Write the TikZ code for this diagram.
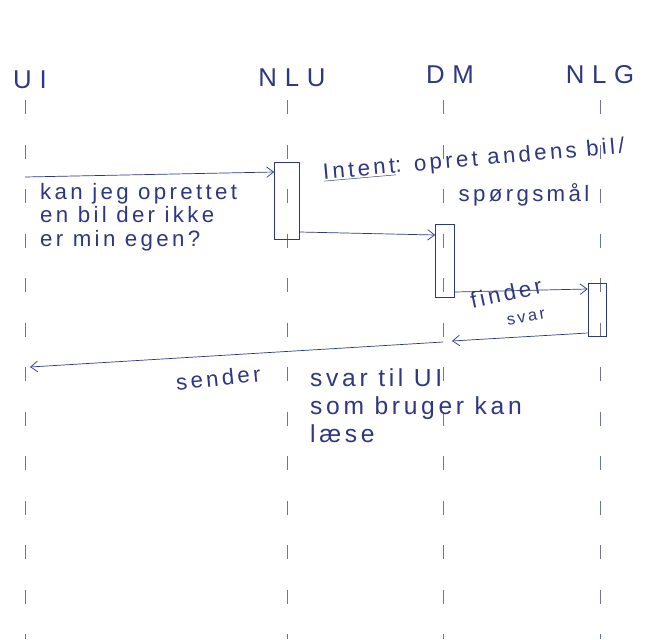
\documentclass[tikz,border=0pt]{standalone}
\usepackage{fontspec}
\setmainfont{Liberation Sans}
\usetikzlibrary{arrows.meta}
\definecolor{pen}{RGB}{45,55,130}
\newfontfamily\handfont[LetterSpace=15]{Liberation Sans}
\newfontfamily\headfont[LetterSpace=30]{Liberation Sans}
\tikzset{
  head/.style={text=pen,font=\headfont\fontsize{22}{24}\selectfont},
  lifeline/.style={draw=pen!70,line width=.5pt,dash pattern=on 12pt off 26pt},
  act/.style={draw=pen,line width=.6pt,minimum width=.6cm,inner sep=0pt},
  msg/.style={draw=pen,line width=.6pt,-{Straight Barb[length=6pt,width=9pt]}},
  txt/.style={text=pen,align=left,inner sep=0pt,font=\handfont\fontsize{19}{20}\selectfont}
}
\begin{document}
\begin{tikzpicture}[x=0.03cm,y=-0.03cm]
\useasboundingbox (0,0) rectangle (668,639);

% lifeline heads
\node[head] (ui)  at (30,80)  {UI};
\node[head] (nlu) at (292,78) {NLU};
\node[head] (dm)  at (450,75) {DM};
\node[head] (nlg) at (600,75) {NLG};

% lifelines
\draw[lifeline] (25,100)  -- (25,639);
\draw[lifeline] (287,100) -- (287,639);
\draw[lifeline] (443,100) -- (443,639);
\draw[lifeline] (600,100) -- (600,639);

% activations
\node[act,minimum width=.75cm,minimum height=2.31cm] (nlubox) at (287,201) {};
\node[act,minimum width=.57cm,minimum height=2.19cm] (dmbox)  at (445,261) {};
\node[act,minimum width=.54cm,minimum height=1.59cm] (nlgbox) at (597,310) {};

% messages
\draw[msg] (25,177) -- (nlubox.west |- 0,172);
\draw[msg] (nlubox.east |- 0,232) -- (dmbox.west |- 0,235);
\draw[msg] (dmbox.east |- 0,292) -- (nlgbox.west |- 0,289);
\draw[msg] (nlgbox.west |- 0,333) -- (452,341);
\draw[msg] (443,342) -- (30,367);

% labels
\node[txt,anchor=north west] (ask) at (40,183) {kan jeg oprettet\\en bil der ikke\\er min egen?};
\node[txt,anchor=north west,rotate=5] (intent) at (322,163) {\underline{Intent}: opret andens bil/};
\node[txt] (kind) at (524,195) {spørgsmål};
\node[txt,rotate=12] (find) at (506,293) {finder};
\node[txt,rotate=10,font=\handfont\fontsize{14}{14}\selectfont] (svar) at (526,318) {svar};
\node[txt,anchor=north west,rotate=6] (send) at (175,374) {sender};
\node[txt,anchor=north west,font=\handfont\fontsize{21}{24}\selectfont] (reply) at (310,368)
  {svar til UI\\som bruger kan\\læse};
\end{tikzpicture}
\end{document}
